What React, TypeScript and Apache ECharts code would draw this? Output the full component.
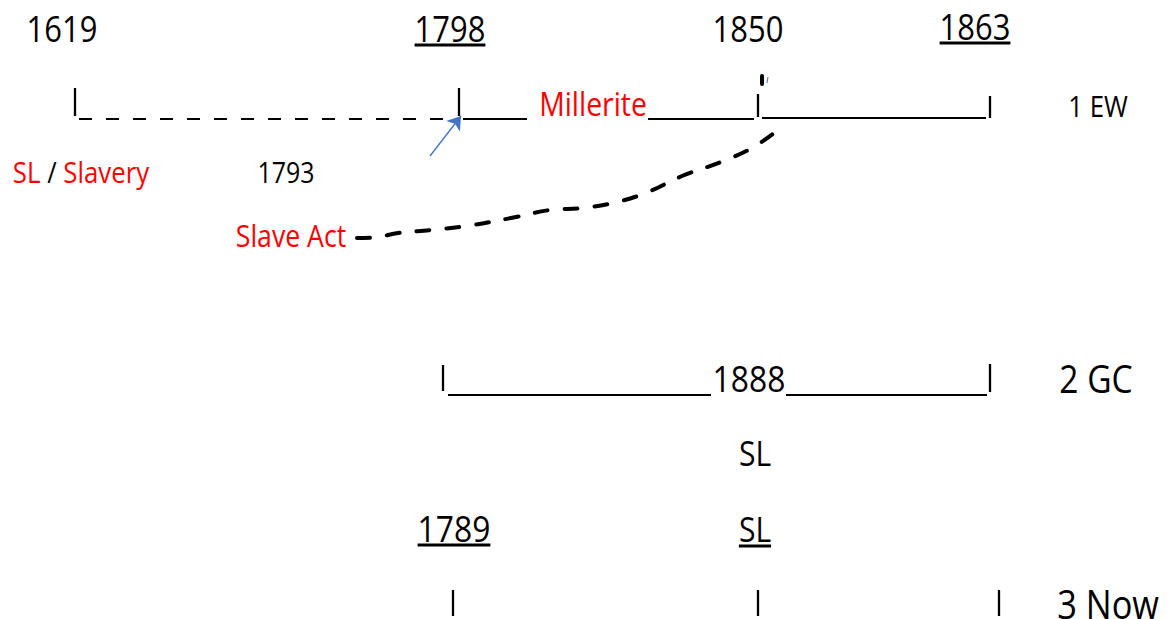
import React, { useEffect, useRef } from "react";
import * as echarts from "echarts";

const W = 1167;
const H = 619;
const FONT = "'Open Sans', 'Noto Sans', 'DejaVu Sans', sans-serif";
const STRETCH = 0.86; // horizontal squeeze of the lettering

// ---- Text labels of the diagram ----
const labelTexts = [
  "1619", "1798", "1850", "1863",
  "Millerite", "1 EW",
  "SL / Slavery", "1793", "Slave Act",
  "1888", "2 GC",
  "SL",
  "1789", "SL",
  "3 Now",
];
const labelX = [62, 450, 748, 975, 593, 1098, 81, 286, 291, 749, 1096, 755, 454, 755, 1159];
const labelY = [28, 28, 28, 26, 103, 105, 171, 172, 235, 378, 378, 453, 528, 529, 603];
const labelSize = [36, 36, 36, 36, 33, 30, 30, 29, 31, 37, 39, 35, 37, 35, 40];
const labelAlign = ["center", "center", "center", "center", "center", "center", "center", "center",
  "center", "center", "center", "center", "center", "center", "right"];
const redLabels = ["Millerite", "Slave Act"];
const redWords = ["SL", "Slavery"]; // red words inside "SL / Slavery"
const underlinedIdx = [1, 3, 12, 13];

// ---- Timeline strokes ----
// vertical "I" bars: [x, yTop, yBottom]
const barMarks = [
  [75, 88, 116], [459, 88, 116], [758, 94, 117], [990, 96, 118],
  [443, 365, 391], [990, 364, 392],
  [453, 590, 616], [758, 590, 616], [999, 590, 616],
];
// solid underscores: [x1, x2, y]
const solidRuns = [
  [463, 527, 119], [648, 754, 119], [762, 986, 118],
  [448, 711, 395], [786, 987, 395],
];
// dashed run "_ _ _ _": [x1, x2, y]
const dashedRuns = [[79, 452, 119]];

// hand-drawn dashed curve from "Slave Act" up to 1850
const curveX = [357, 378, 398, 431, 467, 511, 550, 583, 617, 648, 682, 721, 752, 774];
const curveY = [238, 237, 233, 230, 226, 218, 210, 208, 202, 192, 176, 162, 148, 133];

// blue arrow from "1793" to 1798
const arrowFrom = [430, 156];
const arrowTo = [461, 116];

// small marks above the 1850 bar
const blackMark = [[762, 76], [762, 84]];
const blueMark = [[768, 77], [767, 83]];

let measureCtx: CanvasRenderingContext2D | null = null;
function measure(text: string, size: number): number {
  if (!measureCtx) measureCtx = document.createElement("canvas").getContext("2d");
  if (!measureCtx) return text.length * size * 0.5;
  measureCtx.font = `${size}px ${FONT}`;
  return measureCtx.measureText(text).width;
}

export default function App() {
  const ref = useRef<HTMLDivElement>(null);

  useEffect(() => {
    if (!ref.current) return;
    const chart = echarts.init(ref.current, null, { renderer: "svg" });

    const textData = labelTexts.map((t, i) => [labelX[i], labelY[i], i]);

    const renderLabel = (params: any, api: any) => {
      const i = api.value(2) as number;
      const t = labelTexts[i];
      const size = labelSize[i];
      const lh = Math.round(size * 0.78);
      const [px, py] = api.coord([api.value(0), api.value(1)]);
      const isRich = t === "SL / Slavery";
      const text = isRich
        ? t
            .split(" ")
            .map((w) => (redWords.includes(w) ? `{r|${w}}` : w))
            .join(" ")
        : t;
      const children: any[] = [
        {
          type: "text",
          x: px,
          y: py,
          scaleX: STRETCH,
          silent: true,
          style: {
            text,
            fontSize: size,
            lineHeight: lh,
            fontFamily: FONT,
            fill: redLabels.includes(t) ? "#ff0000" : "#000000",
            align: labelAlign[i],
            verticalAlign: "middle",
            rich: isRich
              ? { r: { fill: "#ff0000", fontSize: size, lineHeight: lh, fontFamily: FONT } }
              : undefined,
          },
        },
      ];
      if (underlinedIdx.includes(i)) {
        const w = measure(t, size) * STRETCH;
        const y = py + 17;
        children.push({
          type: "line",
          silent: true,
          shape: { x1: px - w / 2, y1: y, x2: px + w / 2, y2: y },
          style: { stroke: "#000", lineWidth: 3 },
        });
      }
      return { type: "group", children };
    };

    const option: any = {
      animation: false,
      backgroundColor: "#ffffff",
      grid: { left: 0, right: 0, top: 0, bottom: 0 },
      xAxis: { type: "value", min: 0, max: W, show: false },
      yAxis: { type: "value", min: 0, max: H, inverse: true, show: false },
      tooltip: { show: false },
      series: [
        {
          type: "lines",
          coordinateSystem: "cartesian2d",
          silent: true,
          lineStyle: { color: "#000", width: 2.3, opacity: 1 },
          data: barMarks.map(([x, y1, y2]) => ({ coords: [[x, y1], [x, y2]] })),
        },
        {
          type: "lines",
          coordinateSystem: "cartesian2d",
          silent: true,
          lineStyle: { color: "#000", width: 2, opacity: 1 },
          data: solidRuns.map(([x1, x2, y]) => ({ coords: [[x1, y], [x2, y]] })),
        },
        {
          type: "lines",
          coordinateSystem: "cartesian2d",
          silent: true,
          lineStyle: { color: "#000", width: 2, opacity: 1, type: [13, 14] },
          data: dashedRuns.map(([x1, x2, y]) => ({ coords: [[x1, y], [x2, y]] })),
        },
        {
          type: "lines",
          coordinateSystem: "cartesian2d",
          silent: true,
          symbol: ["none", "arrow"],
          symbolSize: 13,
          lineStyle: { color: "#4472c4", width: 1.3, opacity: 1 },
          data: [{ coords: [arrowFrom, arrowTo] }],
        },
        {
          type: "lines",
          coordinateSystem: "cartesian2d",
          silent: true,
          lineStyle: { color: "#000", width: 4, opacity: 1, cap: "round" },
          data: [{ coords: blackMark }],
        },
        {
          type: "lines",
          coordinateSystem: "cartesian2d",
          silent: true,
          lineStyle: { color: "#4472c4", width: 1, opacity: 1 },
          data: [{ coords: blueMark }],
        },
        {
          type: "line",
          silent: true,
          smooth: 0.4,
          showSymbol: false,
          symbol: "none",
          lineStyle: { color: "#000", width: 4, type: [13, 17], cap: "round" },
          data: curveX.map((x, i) => [x, curveY[i]]),
        },
        {
          type: "custom",
          silent: true,
          clip: false,
          renderItem: renderLabel,
          data: textData,
        },
      ],
    };

    chart.setOption(option);
    return () => chart.dispose();
  }, []);

  return (
    <div
      ref={ref}
      style={{ position: "absolute", left: 0, top: 0, width: W, height: H, background: "#fff" }}
    />
  );
}
